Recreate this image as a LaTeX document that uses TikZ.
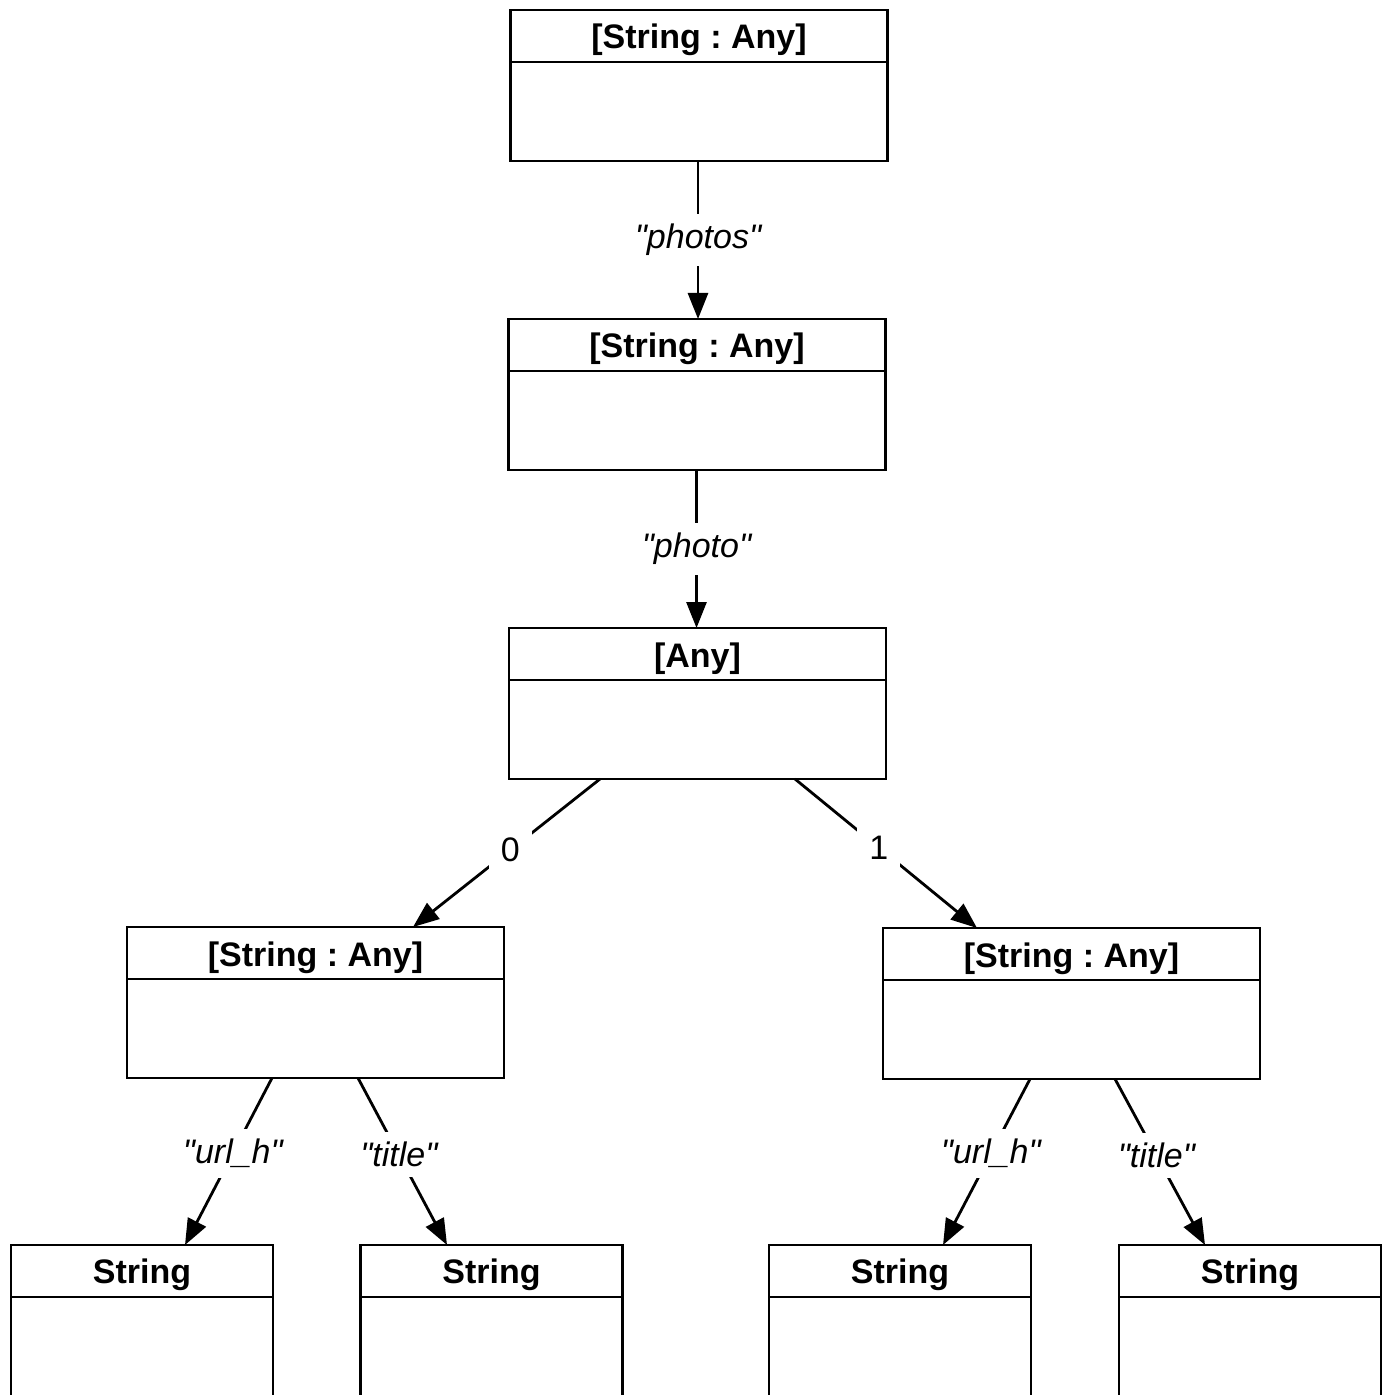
\documentclass[tikz,border=0pt]{standalone}
\usepackage{fontspec}
\setmainfont{Liberation Sans}
\usetikzlibrary{arrows.meta}
\newcommand{\dq}{\textquotedbl}
\begin{document}
\frenchspacing
\begin{tikzpicture}[x=0.5pt,y=-0.5pt,
 box/.style={draw, line width=1.4pt, minimum width=188.5pt, minimum height=75.5pt, inner sep=0pt, outer sep=0pt, anchor=north},
 sbox/.style={box, minimum width=131pt},
 hdr/.style={font=\fontsize{17}{20}\selectfont\bfseries, inner sep=0pt, anchor=base},
 lbl/.style={font=\fontsize{17}{20}\selectfont\itshape, fill=white, inner sep=5pt},
 num/.style={font=\fontsize{17}{20}\selectfont, fill=white, inner sep=6pt},
 arr/.style={line width=1.4pt, -{Triangle[length=13pt,width=10pt]}},
 div/.style={line width=1.4pt},
]
\useasboundingbox (0,0) rectangle (1387,1395);
\clip (0,0) rectangle (1387,1395);
% boxes
\node[box] (b1) at (699,10) {};
\node[box] (b2) at (697,319) {};
\node[box] (b3) at (697.5,628) {};
\node[box] (b4) at (315.5,927) {};
\node[box] (b5) at (1071.5,928) {};
\node[sbox] (s1) at (142,1245) {};
\node[sbox] (s2) at (491.5,1245) {};
\node[sbox] (s3) at (900,1245) {};
\node[sbox] (s4) at (1250,1245) {};
% dividers
\foreach \n in {b1,b2,b3,b4,b5,s1,s2,s3,s4}{
  \draw[div] ([yshift=-26pt]\n.north west) -- ([yshift=-26pt]\n.north east);
}
% headers
\node[hdr] (b1h) at ([yshift=-19.5pt]b1.north) {[String : Any]};
\node[hdr] (b2h) at ([yshift=-19.5pt]b2.north) {[String : Any]};
\node[hdr] (b3h) at ([yshift=-19.5pt]b3.north) {[Any]};
\node[hdr] (b4h) at ([yshift=-19.5pt]b4.north) {[String : Any]};
\node[hdr] (b5h) at ([yshift=-19.5pt]b5.north) {[String : Any]};
\node[hdr] (s1h) at ([yshift=-19pt]s1.north) {String};
\node[hdr] (s2h) at ([yshift=-19pt]s2.north) {String};
\node[hdr] (s3h) at ([yshift=-19pt]s3.north) {String};
\node[hdr] (s4h) at ([yshift=-19pt]s4.north) {String};
% connectors
\draw[arr] ([xshift=-0.5pt]b1.south) -- node[lbl] {\dq photos\dq} ([xshift=-0.5pt]b1.south |- b2.north);
\draw[arr] ([xshift=-0.25pt]b2.south) -- node[lbl] {\dq photo\dq} ([xshift=-0.25pt]b2.south |- b3.north);
\draw[arr] ([xshift=-48.75pt]b3.south) -- node[num, pos=0.48] {0} ([xshift=48.75pt]b4.north);
\draw[arr] ([xshift=48.75pt]b3.south) -- node[num, pos=0.46] {1} ([xshift=-47.25pt]b5.north);
\draw[arr] ([xshift=-21.75pt]b4.south) -- node[lbl, pos=0.45] {\dq url\_h\dq} ([xshift=21.5pt]s1.north);
\draw[arr] ([xshift=21.25pt]b4.south) -- node[lbl, pos=0.46] {\dq title\dq} ([xshift=-22.25pt]s2.north);
\draw[arr] ([xshift=-20.75pt]b5.south) -- node[lbl, pos=0.45] {\dq url\_h\dq} ([xshift=21.5pt]s3.north);
\draw[arr] ([xshift=21.75pt]b5.south) -- node[lbl, pos=0.46] {\dq title\dq} ([xshift=-22.5pt]s4.north);
\end{tikzpicture}
\end{document}
